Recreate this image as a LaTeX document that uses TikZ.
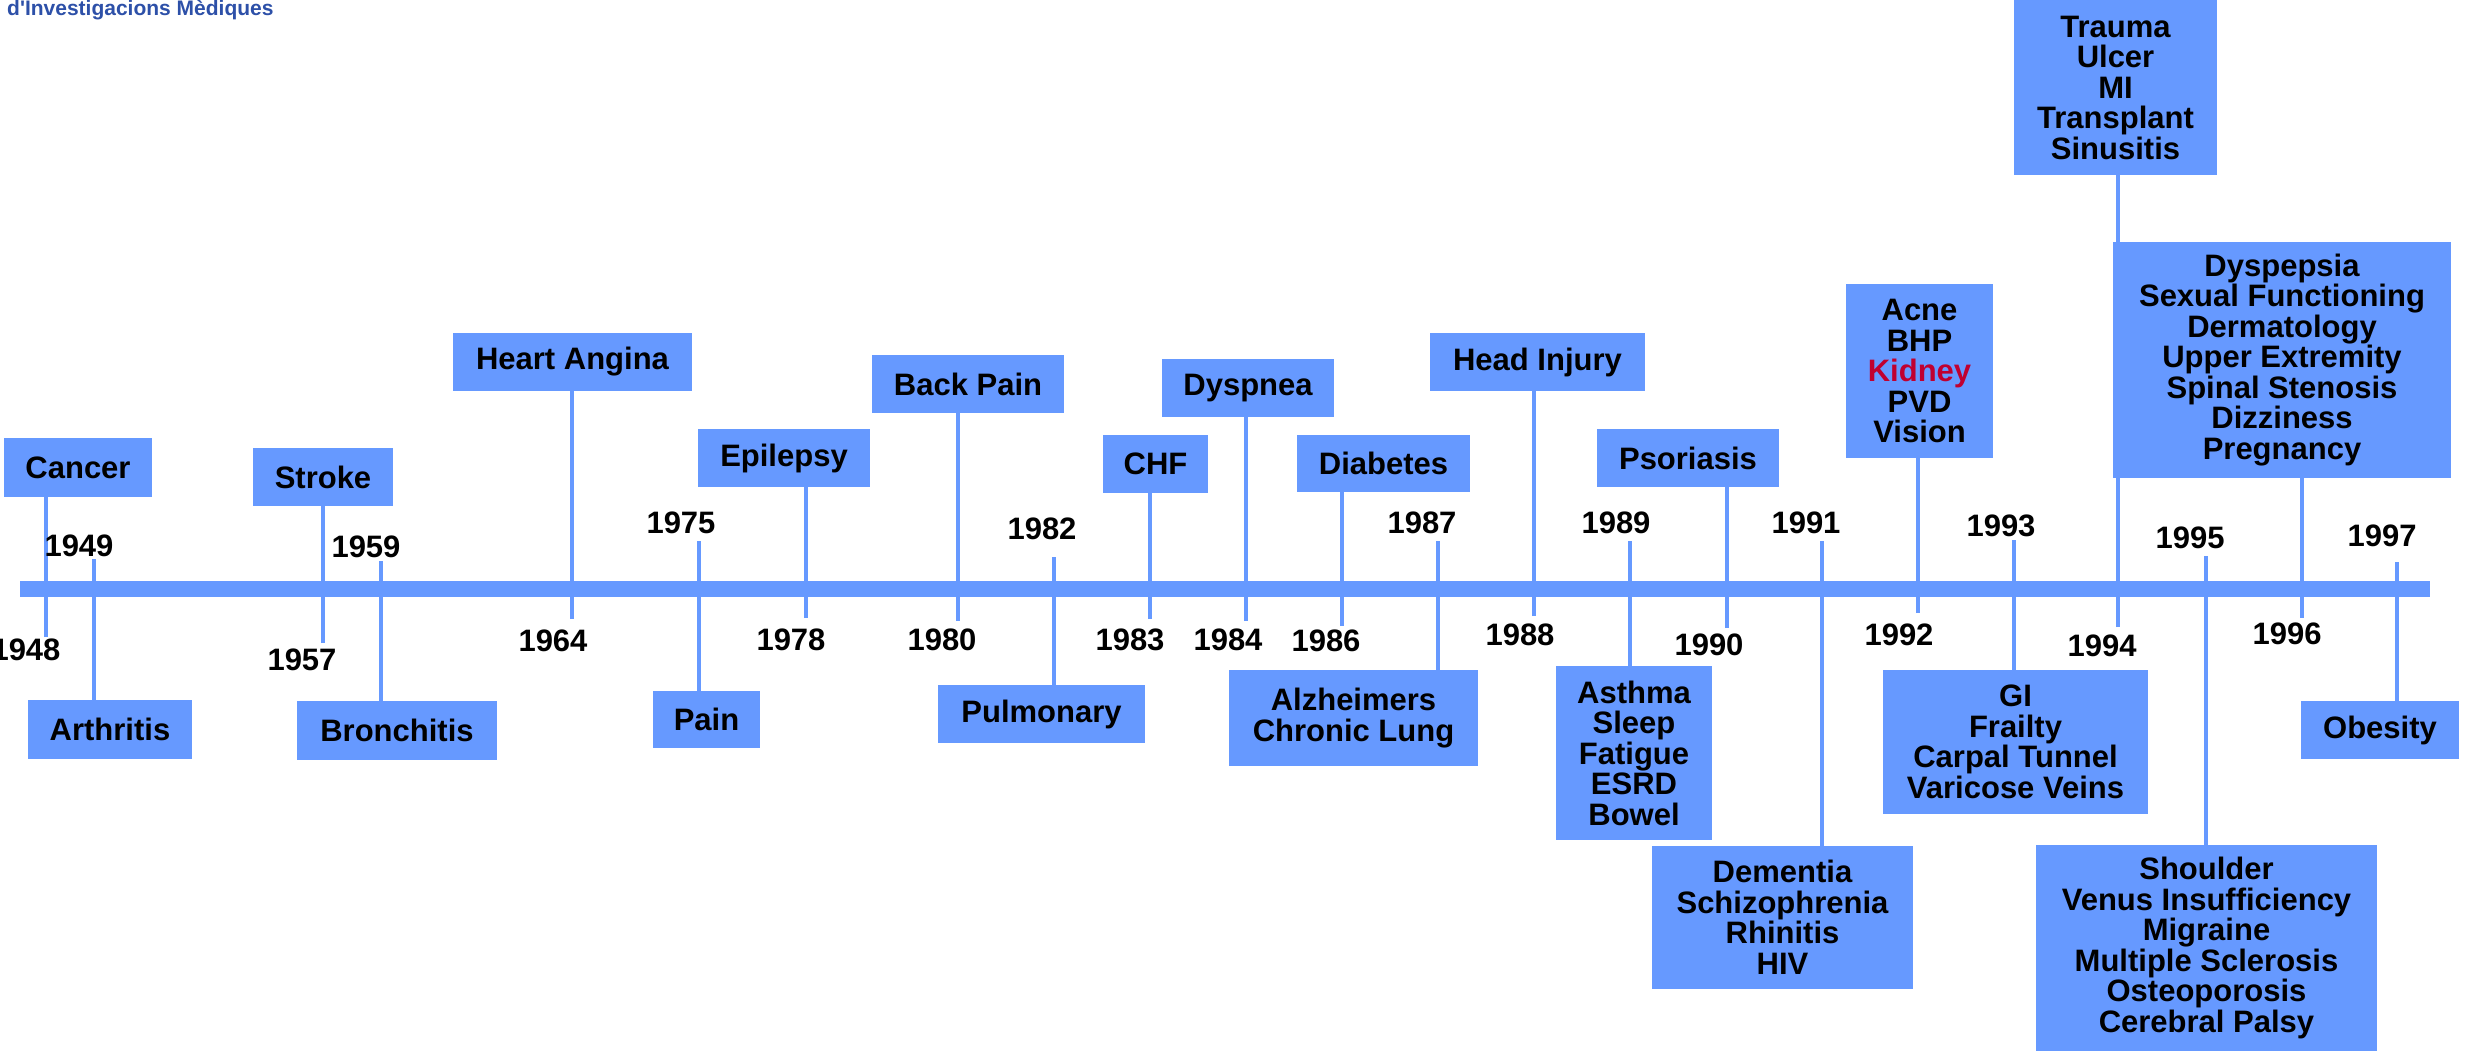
\documentclass[tikz,border=0pt]{standalone}
\usepackage{fontspec}
\setmainfont{Liberation Sans}
\usetikzlibrary{backgrounds}
\definecolor{boxblue}{HTML}{6699FF}
\definecolor{kidred}{HTML}{C00030}
\definecolor{titleblue}{HTML}{2D50A8}
\begin{document}
\begin{tikzpicture}[x=1pt,y=-1pt,
  evbox/.style={fill=boxblue, inner sep=0pt, align=center, text=black,
    font=\fontsize{31}{30.5}\selectfont\bfseries},
  yr/.style={inner sep=0pt, text=black, font=\fontsize{31}{31}\selectfont\bfseries},
  tickline/.style={draw=boxblue, line width=4pt},
  bar/.style={fill=boxblue, draw=none}]
\useasboundingbox (0,0) rectangle (2466,1052);

% title
\node[anchor=base west, inner sep=0pt, text=titleblue, font=\fontsize{21}{21}\selectfont\bfseries] (title) at (7,15) {d\textquotesingle Investigacions Mèdiques};

% tick end coordinates
\coordinate (t1948) at (46,637);
\coordinate (t1949) at (94,559);
\coordinate (t1957) at (323,643);
\coordinate (t1959) at (381,561);
\coordinate (t1964) at (572,619);
\coordinate (t1975) at (699,541);
\coordinate (t1978) at (806,618);
\coordinate (t1980) at (958,621);
\coordinate (t1982) at (1054,557);
\coordinate (t1983) at (1150,619);
\coordinate (t1984) at (1246,621);
\coordinate (t1986) at (1342,626);
\coordinate (t1987) at (1438,541);
\coordinate (t1988) at (1534,616);
\coordinate (t1989) at (1630,541);
\coordinate (t1990) at (1727,628);
\coordinate (t1991) at (1822,541);
\coordinate (t1992) at (1918,613);
\coordinate (t1993) at (2014,540);
\coordinate (t1994) at (2118,627);
\coordinate (t1995) at (2206,556);
\coordinate (t1996) at (2302,618);
\coordinate (t1997) at (2397,562);

% boxes
\node[evbox, minimum width=148, minimum height=59] (cancer) at (78,467.5) {Cancer};
\node[evbox, minimum width=164, minimum height=59] (arthritis) at (110,729.5) {Arthritis};
\node[evbox, minimum width=140, minimum height=58] (stroke) at (323,477) {Stroke};
\node[evbox, minimum width=200, minimum height=59] (bronchitis) at (397,730.5) {Bronchitis};
\node[evbox, minimum width=239, minimum height=58] (heart) at (572.5,362) {Heart Angina};
\node[evbox, minimum width=107, minimum height=57] (pain) at (706.5,719.5) {Pain};
\node[evbox, minimum width=172, minimum height=58] (epilepsy) at (784,458) {Epilepsy};
\node[evbox, minimum width=192, minimum height=58] (backpain) at (968,384) {Back Pain};
\node[evbox, minimum width=207, minimum height=58] (pulmonary) at (1041.5,714) {Pulmonary};
\node[evbox, minimum width=105, minimum height=58] (chf) at (1155.5,464) {CHF};
\node[evbox, minimum width=172, minimum height=58] (dyspnea) at (1248,388) {Dyspnea};
\node[evbox, minimum width=173, minimum height=57] (diabetes) at (1383.5,463.5) {Diabetes};
\node[evbox, minimum width=249, minimum height=96] (alzheimers) at (1353.5,718) {Alzheimers\\Chronic Lung};
\node[evbox, minimum width=215, minimum height=58] (headinjury) at (1537.5,362) {Head Injury};
\node[evbox, minimum width=156, minimum height=174] (asthma) at (1634,753) {Asthma\\Sleep\\Fatigue\\ESRD\\Bowel};
\node[evbox, minimum width=182, minimum height=58] (psoriasis) at (1688,458) {Psoriasis};
\node[evbox, minimum width=261, minimum height=143] (dementia) at (1782.5,917.5) {Dementia\\Schizophrenia\\Rhinitis\\HIV};
\node[evbox, minimum width=147, minimum height=174] (acne) at (1919.5,371) {Acne\\BHP\\\textcolor{kidred}{Kidney}\\PVD\\Vision};
\node[evbox, minimum width=265, minimum height=144] (gi) at (2015.5,742) {GI\\Frailty\\Carpal Tunnel\\Varicose Veins};
\node[evbox, minimum width=203, minimum height=175] (trauma) at (2115.5,87.5) {Trauma\\Ulcer\\MI\\Transplant\\Sinusitis};
\node[evbox, minimum width=338, minimum height=236] (dyspepsia) at (2282,360) {Dyspepsia\\Sexual Functioning\\Dermatology\\Upper Extremity\\Spinal Stenosis\\Dizziness\\Pregnancy};
\node[evbox, minimum width=341, minimum height=206] (shoulder) at (2206.5,948) {Shoulder\\Venus Insufficiency\\Migraine\\Multiple Sclerosis\\Osteoporosis\\Cerebral Palsy};
\node[evbox, minimum width=158, minimum height=58] (obesity) at (2380,730) {Obesity};

% connectors (behind the boxes)
\begin{scope}[on background layer]
\draw[tickline] (t1948) -- (t1948 |- cancer.south);
\draw[tickline] (t1949) -- (t1949 |- arthritis.north);
\draw[tickline] (t1957) -- (t1957 |- stroke.south);
\draw[tickline] (t1959) -- (t1959 |- bronchitis.north);
\draw[tickline] (t1964) -- (t1964 |- heart.south);
\draw[tickline] (t1975) -- (t1975 |- pain.north);
\draw[tickline] (t1978) -- (t1978 |- epilepsy.south);
\draw[tickline] (t1980) -- (t1980 |- backpain.south);
\draw[tickline] (t1982) -- (t1982 |- pulmonary.north);
\draw[tickline] (t1983) -- (t1983 |- chf.south);
\draw[tickline] (t1984) -- (t1984 |- dyspnea.south);
\draw[tickline] (t1986) -- (t1986 |- diabetes.south);
\draw[tickline] (t1987) -- (t1987 |- alzheimers.north);
\draw[tickline] (t1988) -- (t1988 |- headinjury.south);
\draw[tickline] (t1989) -- (t1989 |- asthma.north);
\draw[tickline] (t1990) -- (t1990 |- psoriasis.south);
\draw[tickline] (t1991) -- (t1991 |- dementia.north);
\draw[tickline] (t1992) -- (t1992 |- acne.south);
\draw[tickline] (t1993) -- (t1993 |- gi.north);
\draw[tickline] (t1994) -- (t1994 |- trauma.south);
\draw[tickline] (t1995) -- (t1995 |- shoulder.north);
\draw[tickline] (t1996) -- (t1996 |- dyspepsia.south);
\draw[tickline] (t1997) -- (t1997 |- obesity.north);
\end{scope}

% timeline bar
\coordinate (barL) at (20,581);
\coordinate (barR) at (2430,597);
\fill[bar] (barL) rectangle (barR);

% year labels
\node[yr] (y1948) at (26,650) {1948};
\node[yr] (y1949) at (79,546) {1949};
\node[yr] (y1957) at (302,660) {1957};
\node[yr] (y1959) at (366,547) {1959};
\node[yr] (y1964) at (553,641) {1964};
\node[yr] (y1975) at (681,523) {1975};
\node[yr] (y1978) at (791,640) {1978};
\node[yr] (y1980) at (942,640) {1980};
\node[yr] (y1982) at (1042,529) {1982};
\node[yr] (y1983) at (1130,640) {1983};
\node[yr] (y1984) at (1228,640) {1984};
\node[yr] (y1986) at (1326,641) {1986};
\node[yr] (y1987) at (1422,523) {1987};
\node[yr] (y1988) at (1520,635) {1988};
\node[yr] (y1989) at (1616,523) {1989};
\node[yr] (y1990) at (1709,645) {1990};
\node[yr] (y1991) at (1806,523) {1991};
\node[yr] (y1992) at (1899,635) {1992};
\node[yr] (y1993) at (2001,526) {1993};
\node[yr] (y1994) at (2102,646) {1994};
\node[yr] (y1995) at (2190,538) {1995};
\node[yr] (y1996) at (2287,634) {1996};
\node[yr] (y1997) at (2382,536) {1997};
\end{tikzpicture}
\end{document}
